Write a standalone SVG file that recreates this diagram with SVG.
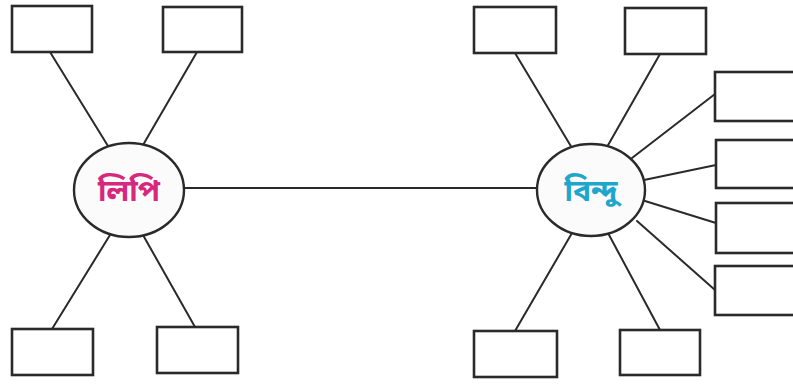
<svg xmlns="http://www.w3.org/2000/svg" width="793" height="385" viewBox="0 0 793 385">
  <style>
    .box { fill: #ffffff; stroke: #2a2a2a; stroke-width: 2.6; }
    .hub { fill: #fbfbfb; stroke: #2a2a2a; stroke-width: 2.4; }
    .link { stroke: #2a2a2a; stroke-width: 2; fill: none; stroke-linecap: round; }
    .label { font-family: "Noto Sans Bengali", "Noto Serif Bengali", "Lohit Bengali", "Noto Sans", sans-serif; font-size: 30px; font-weight: bold; text-anchor: middle; }
  </style>
  <rect width="793" height="385" fill="#ffffff"/>

  <g id="connectors">
    <line class="link" x1="183" y1="188" x2="537" y2="188"/>
    <!-- left hub spokes -->
    <line class="link" x1="50" y1="52" x2="108" y2="146"/>
    <line class="link" x1="197" y1="52" x2="143" y2="145"/>
    <line class="link" x1="52" y1="329" x2="110" y2="235"/>
    <line class="link" x1="195" y1="327" x2="143" y2="235"/>
    <!-- right hub spokes -->
    <line class="link" x1="515" y1="53" x2="572" y2="148"/>
    <line class="link" x1="660" y1="54" x2="607" y2="147"/>
    <line class="link" x1="715" y1="94" x2="632" y2="158"/>
    <line class="link" x1="716" y1="165" x2="644" y2="180"/>
    <line class="link" x1="716" y1="223" x2="645" y2="201"/>
    <line class="link" x1="715" y1="290" x2="637" y2="221"/>
    <line class="link" x1="515" y1="331" x2="572" y2="233"/>
    <line class="link" x1="660" y1="330" x2="608" y2="233"/>
  </g>

  <g id="hub-lipi">
    <ellipse class="hub" cx="129" cy="190" rx="55" ry="47"/>
    <text class="label" x="129" y="201" fill="#d6287c">লিপি</text>
  </g>
  <g id="hub-bindu">
    <ellipse class="hub" cx="591" cy="190" rx="54" ry="46"/>
    <text class="label" x="591" y="201" fill="#1ea6cc">বিন্দু</text>
  </g>

  <g id="box-l1"><rect class="box" x="12" y="6" width="80" height="46"/></g>
  <g id="box-l2"><rect class="box" x="163" y="7" width="79" height="45"/></g>
  <g id="box-l3"><rect class="box" x="12" y="329" width="81" height="46"/></g>
  <g id="box-l4"><rect class="box" x="157" y="327" width="81" height="46"/></g>

  <g id="box-r1"><rect class="box" x="474" y="7" width="82" height="46"/></g>
  <g id="box-r2"><rect class="box" x="625" y="8" width="81" height="46"/></g>
  <g id="box-r3"><rect class="box" x="715" y="72" width="82" height="49"/></g>
  <g id="box-r4"><rect class="box" x="716" y="140" width="81" height="48"/></g>
  <g id="box-r5"><rect class="box" x="716" y="203" width="81" height="50"/></g>
  <g id="box-r6"><rect class="box" x="715" y="266" width="82" height="49"/></g>
  <g id="box-r7"><rect class="box" x="474" y="331" width="83" height="46"/></g>
  <g id="box-r8"><rect class="box" x="620" y="330" width="80" height="45"/></g>
</svg>
